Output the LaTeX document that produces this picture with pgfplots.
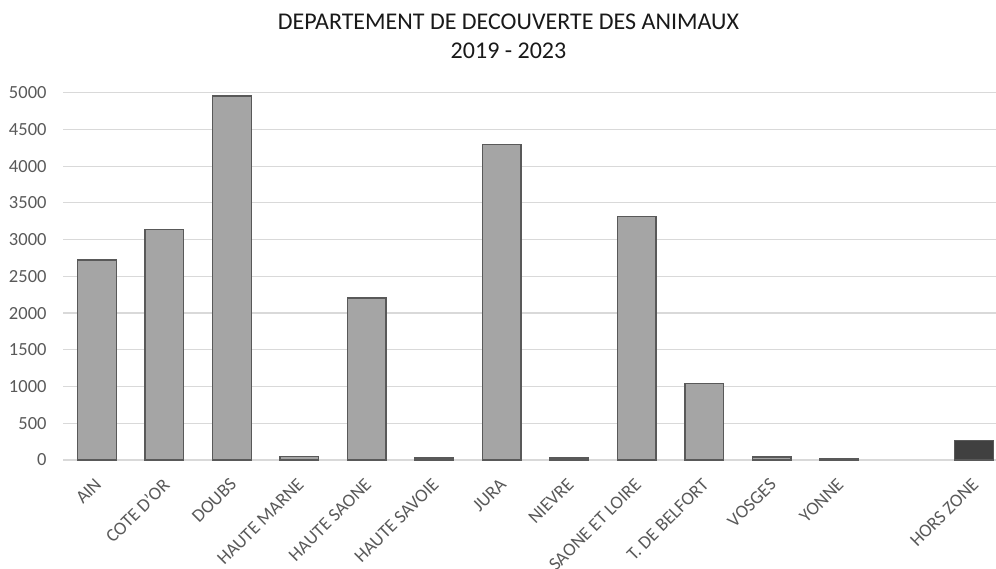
\documentclass[border=0pt]{standalone}
\usepackage{fontspec}
\setmainfont{Carlito}
\usepackage{pgfplots}
\pgfplotsset{compat=1.18}
\definecolor{txt}{HTML}{595959}
\definecolor{gridc}{HTML}{D9D9D9}
\definecolor{barfill}{HTML}{A5A5A5}
\definecolor{baredge}{HTML}{595959}
\definecolor{darkfill}{HTML}{404040}
\begin{document}
\begin{tikzpicture}[x=1pt,y=1pt]
\useasboundingbox (0,0) rectangle (996,569);
\begin{axis}[
  at={(63.3pt,109pt)}, anchor=south west,
  scale only axis, width=932.7pt, height=367.3pt,
  xmin=-0.5, xmax=13.326, ymin=0, ymax=5000,
  ytick={0,500,...,5000},
  xtick={0,1,2,3,4,5,6,7,8,9,10,11,13},
  xticklabels={AIN,COTE D'OR,DOUBS,HAUTE MARNE,HAUTE SAONE,HAUTE SAVOIE,JURA,NIEVRE,SAONE ET LOIRE,T. DE BELFORT,VOSGES,YONNE,HORS ZONE},
  ymajorgrids, grid style={gridc, line width=1.2pt},
  axis x line*=bottom, axis y line*=left,
  x axis line style={gridc, line width=1.2pt, -},
  y axis line style={draw=none},
  major tick length=0pt,
  tick label style={font=\fontsize{18.5}{20}\selectfont, text=txt},
  yticklabel style={anchor=east, inner sep=0pt, xshift=-16.6pt},
  xticklabel style={xshift=-3pt, yshift=-17pt, rotate=45, anchor=north east, inner sep=0pt},
  /pgf/number format/assume math mode=true,
  /pgf/number format/1000 sep={},
  clip=false,
  ybar, bar width=38.6pt,
]
\addplot[ybar, bar shift=0pt, fill=barfill, draw=baredge, line width=1.4pt] coordinates {
  (0,2721) (1,3134) (2,4955) (3,50) (4,2203) (5,27) (6,4292) (7,27) (8,3315) (9,1045) (10,41) (11,14)
};
\addplot[ybar, bar shift=0pt, fill=darkfill, draw=baredge, line width=1.4pt] coordinates {
  (13,268)
};
\end{axis}
\node[anchor=base, font=\fontsize{24}{28}\selectfont, text=black!90] at (508.5,539) {DEPARTEMENT DE DECOUVERTE DES ANIMAUX};
\node[anchor=base, font=\fontsize{24}{28}\selectfont, text=black!90] at (508.5,510) {2019 - 2023};
\end{tikzpicture}
\end{document}
